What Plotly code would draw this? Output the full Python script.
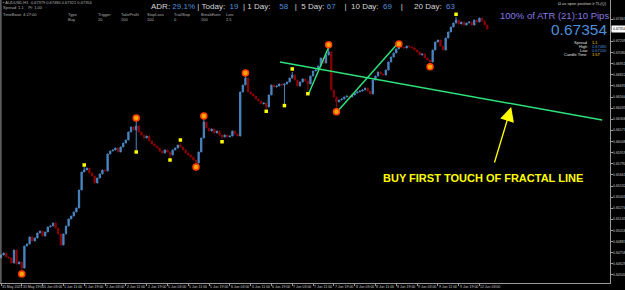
import plotly.graph_objects as go

# ---------------- data (AUDUSD H1) ----------------
close = [0.64732, 0.64755, 0.64709, 0.64697, 0.64639, 0.64790, 0.64628, 0.64651, 0.64581, 0.64836,
         0.64860, 0.64941, 0.64894, 0.64929, 0.64987, 0.65010, 0.64952, 0.64999, 0.65057, 0.65068,
         0.65103, 0.65045, 0.64976, 0.64848, 0.64976, 0.65068, 0.65150, 0.65184, 0.65231, 0.65277,
         0.65486, 0.65695, 0.65718, 0.65741, 0.65683, 0.65648, 0.65567, 0.65625, 0.65672, 0.65718,
         0.65706, 0.65904, 0.65938, 0.65950, 0.65973, 0.65927, 0.65985, 0.66031, 0.66066, 0.66159,
         0.66217, 0.66182, 0.66228, 0.66159, 0.66124, 0.66089, 0.66112, 0.66054, 0.66020, 0.65996,
         0.65973, 0.65938, 0.65915, 0.65950, 0.65927, 0.65892, 0.65950, 0.65973, 0.66008, 0.65985,
         0.65950, 0.65915, 0.65892, 0.65869, 0.65834, 0.65799, 0.65927, 0.66089, 0.66275, 0.66205,
         0.66170, 0.66194, 0.66147, 0.66170, 0.66124, 0.66101, 0.66124, 0.66101, 0.66112, 0.66170,
         0.66136, 0.66112, 0.66623, 0.66704, 0.66785, 0.66623, 0.66600, 0.66576, 0.66542, 0.66518,
         0.66484, 0.66495, 0.66449, 0.66588, 0.66704, 0.66681, 0.66692, 0.66716, 0.66704, 0.66716,
         0.66739, 0.66785, 0.66820, 0.66762, 0.66692, 0.66739, 0.66774, 0.66750, 0.66716, 0.66808,
         0.66866, 0.66878, 0.66924, 0.67017, 0.66959, 0.67052, 0.67087, 0.66646, 0.66565, 0.66507,
         0.66530, 0.66542, 0.66565, 0.66576, 0.66565, 0.66588, 0.66611, 0.66623, 0.66634, 0.66646,
         0.66669, 0.66634, 0.66600, 0.66762, 0.66808, 0.66855, 0.66832, 0.66820, 0.66878, 0.66971,
         0.67029, 0.67075, 0.67122, 0.67156, 0.67145, 0.67133, 0.67156, 0.67145, 0.67133, 0.67110,
         0.67087, 0.67052, 0.67064, 0.67017, 0.66994, 0.66971, 0.67110, 0.67203, 0.67226, 0.67156,
         0.67110, 0.67249, 0.67319, 0.67377, 0.67423, 0.67458, 0.67412, 0.67435, 0.67400, 0.67423,
         0.67435, 0.67400, 0.67458, 0.67435, 0.67481, 0.67446, 0.67400, 0.67354]
first_open = 0.64700

# wick extremes at swing bars
low_wick_bars = [8, 52, 65, 75, 85, 102, 109, 118, 129, 165]
low_wick_vals = [0.64546, 0.65950, 0.65857, 0.65776, 0.66078, 0.66426, 0.66484, 0.66634, 0.66437, 0.66948]
high_wick_bars = [32, 52, 69, 78, 94, 112, 126, 153, 175]
high_wick_vals = [0.65753, 0.66286, 0.66031, 0.66321, 0.66820, 0.66855, 0.67145, 0.67156, 0.67493]

# fractal markers
orange_bars = [8, 52, 75, 78, 94, 126, 129, 153, 165]
orange_vals = [0.64512, 0.66321, 0.65753, 0.66344, 0.66843, 0.67171, 0.66394, 0.67180, 0.66916]
yellow_bars = [32, 52, 65, 69, 85, 102, 109, 112, 118, 175]
yellow_vals = [0.65776, 0.65927, 0.65834, 0.66066, 0.66046, 0.66399, 0.66465, 0.66890, 0.66603, 0.67524]

# drawn lines (bar index, price)
fractal_line = [(107.3, 0.66971), (231.2, 0.66298)]
trend_line_1 = [(118.3, 0.66603), (126.4, 0.67171)]
trend_line_2 = [(129.3, 0.66394), (152.4, 0.67180)]
arrow_tail = (189.6, 0.65788)
arrow_tip = (196.2, 0.66449)
note_pos = (185.4, 0.65625)

time_labels = ["31 May 2023", "31 May 19:00", "1 Jun 03:00", "1 Jun 11:00", "1 Jun 19:00",
               "2 Jun 03:00", "2 Jun 11:00", "2 Jun 19:00", "5 Jun 03:00", "5 Jun 11:00",
               "5 Jun 19:00", "6 Jun 03:00", "6 Jun 11:00", "6 Jun 19:00", "7 Jun 03:00",
               "7 Jun 11:00", "7 Jun 19:00", "8 Jun 03:00", "8 Jun 11:00", "8 Jun 19:00",
               "9 Jun 03:00", "9 Jun 11:00", "9 Jun 19:00", "12 Jun 03:00"]
bars_per_label = 8

price_ticks = [0.67467, 0.67338, 0.67209, 0.67080, 0.66951, 0.66822, 0.66693, 0.66564,
               0.66435, 0.66306, 0.66177, 0.66048, 0.65919, 0.65790, 0.65661, 0.65532,
               0.65403, 0.65274, 0.65145, 0.65016, 0.64887, 0.64758, 0.64629, 0.64500]

current_price = 0.67354
adr_labels = ["ADR:", "Today:", "1 Day:", "5 Day:", "10 Day:", "20 Day:"]
adr_values = ["29.1%", "19", "58", "67", "69", "63"]

# ---------------- build ----------------
N = len(close)
x = list(range(N))
opens = [first_open] + close[:-1]
highs = [max(o, c) for o, c in zip(opens, close)]
lows = [min(o, c) for o, c in zip(opens, close)]
for b, v in zip(high_wick_bars, high_wick_vals):
    highs[b] = max(highs[b], v)
for b, v in zip(low_wick_bars, low_wick_vals):
    lows[b] = min(lows[b], v)

UP = "#4a86c0"
DN = "#8b0000"
fig = go.Figure()
fig.add_trace(go.Candlestick(
    x=x, open=opens, high=highs, low=lows, close=close,
    increasing=dict(line=dict(color=UP, width=1), fillcolor=UP),
    decreasing=dict(line=dict(color=DN, width=1), fillcolor=DN),
    whiskerwidth=0, showlegend=False, hoverinfo="skip"))

LINE_GREEN = "#2ee27a"
for seg in (fractal_line, trend_line_1, trend_line_2):
    fig.add_trace(go.Scatter(x=[seg[0][0], seg[1][0]], y=[seg[0][1], seg[1][1]],
                             mode="lines", line=dict(color=LINE_GREEN, width=1.5),
                             showlegend=False, hoverinfo="skip"))

fig.add_trace(go.Scatter(x=orange_bars, y=orange_vals, mode="markers",
                         marker=dict(size=6, color="#ffa500", line=dict(color="#ff4000", width=1.5)),
                         showlegend=False, hoverinfo="skip"))
fig.add_trace(go.Scatter(x=yellow_bars, y=yellow_vals, mode="markers",
                         marker=dict(size=3.5, symbol="square", color="#ffff00"),
                         showlegend=False, hoverinfo="skip"))

W, H = 625, 290
ML, MR, MT, MB = 0, 15, 0, 7
pw, ph = W - ML - MR, H - MT - MB


def px(xp):
    return (xp - ML) / pw


def py(yp):
    # yp measured from the top of the image
    return (H - yp - MB) / ph


annotations = []
# arrow
annotations.append(dict(x=arrow_tip[0], y=arrow_tip[1], ax=arrow_tail[0], ay=arrow_tail[1],
                        xref="x", yref="y", axref="x", ayref="y", text="", showarrow=True,
                        arrowhead=2, arrowsize=2.2, arrowwidth=1.3, arrowcolor="#ffff00"))
annotations.append(dict(x=note_pos[0], y=note_pos[1], xref="x", yref="y",
                        text="<b>BUY FIRST TOUCH OF FRACTAL LINE</b>",
                        showarrow=False, font=dict(family="Arial", size=11, color="#ffff00")))

AXT = "#c8c8c8"
# time axis labels (left-aligned at tick)
for i, lab in enumerate(time_labels):
    annotations.append(dict(x=i * bars_per_label, y=0, xref="x", yref="paper", text=lab,
                            showarrow=False, xanchor="left", yanchor="top", yshift=-0.5, xshift=0,
                            borderpad=0, font=dict(family="Arial", size=3.5, color=AXT)))

# price axis labels (left-aligned right of the axis line)
for v in price_ticks:
    annotations.append(dict(x=px(611.5), y=v, xref="paper", yref="y", text="%.5f" % v,
                            showarrow=False, xanchor="left", yanchor="middle", borderpad=0,
                            font=dict(family="Arial", size=3.5, color=AXT)))

# ADR header as one line of text
LBL = "#d8d8d8"
VAL = "#4c8fdc"
sp = "\u00a0"
gap_after_label = [1, 2, 4, 1, 2, 2]
gap_before_pipe = [1, 2, 3, 4, 4]
gap_after_pipe = [1, 1, 2, 2, 5]
parts = []
for i, (lab, val) in enumerate(zip(adr_labels, adr_values)):
    parts.append(lab + sp * gap_after_label[i] + "<span style='color:%s'>%s</span>" % (VAL, val))
    if i < len(adr_labels) - 1:
        parts.append(sp * gap_before_pipe[i] + "|" + sp * gap_after_pipe[i])
annotations.append(dict(x=px(150), y=py(7), xref="paper", yref="paper", text="".join(parts),
                        showarrow=False, xanchor="left", yanchor="middle", borderpad=0,
                        font=dict(family="Arial", size=8, color=LBL)))

# top-left tiny info
tiny = "#b0b0b0"
tl = [(2, 3, "\u25aa AUDUSD,H1  0.67379 0.67480 0.67321 0.67354"), (2, 8, "Spread: 1.1    Pt: 1.00"),
      (2, 14, "TimeBase: 4:27:00")]
for tx, ty, tt in tl:
    annotations.append(dict(x=px(tx), y=py(ty), xref="paper", yref="paper", text=tt, showarrow=False,
                            xanchor="left", yanchor="middle", borderpad=0,
                            font=dict(family="Arial", size=4, color=tiny)))
cols = [(67, "Type", "Buy"), (97, "Trigger", "20"), (120, "TakeProfit", "100"), (146, "StopLoss", "100"),
        (173, "TrailStop", "0"), (200, "BreakEven", "100"), (225, "Lots", "2.5")]
for cx, h, v in cols:
    annotations.append(dict(x=px(cx), y=py(14.5), xref="paper", yref="paper", text=h, showarrow=False,
                            xanchor="left", yanchor="middle", borderpad=0,
                            font=dict(family="Arial", size=4, color=tiny)))
    annotations.append(dict(x=px(cx), y=py(19.5), xref="paper", yref="paper", text=v, showarrow=False,
                            xanchor="left", yanchor="middle", borderpad=0,
                            font=dict(family="Arial", size=4, color=tiny)))

# top-right info block
annotations.append(dict(x=px(608), y=py(4), xref="paper", yref="paper",
                        text="\u03a9 as open position \u2265 TL(Q)", borderpad=0,
                        showarrow=False, xanchor="right", yanchor="middle",
                        font=dict(family="Arial", size=4, color="#d0d0d0")))
annotations.append(dict(x=px(610), y=py(16), xref="paper", yref="paper", text="100% of ATR (21):10 Pips",
                        showarrow=False, xanchor="right", yanchor="middle", borderpad=0,
                        font=dict(family="Arial", size=9.5, color="#8878e0")))
annotations.append(dict(x=px(608), y=py(30), xref="paper", yref="paper", text="%.5f" % current_price,
                        showarrow=False, xanchor="right", yanchor="middle", borderpad=0,
                        font=dict(family="Arial", size=15.5, color="#4c8fdc")))
info = [("Spread", "1.1", "#ffd700", 42), ("High", "0.67480", VAL, 46), ("Low", "0.67200", VAL, 50),
        ("Candle Time", "1:57", "#ffd700", 54)]
for lab, val, c, yy in info:
    annotations.append(dict(x=px(588), y=py(yy), xref="paper", yref="paper", text=lab, showarrow=False,
                            xanchor="right", yanchor="middle", borderpad=0,
                            font=dict(family="Arial", size=4, color="#e0e0e0")))
    annotations.append(dict(x=px(591), y=py(yy), xref="paper", yref="paper", text=val, showarrow=False,
                            xanchor="left", yanchor="middle", borderpad=0,
                            font=dict(family="Arial", size=4, color=c)))

# current price box on the axis
annotations.append(dict(x=px(611), y=current_price, xref="paper", yref="y", text="%.5f" % current_price,
                        showarrow=False, xanchor="left", yanchor="middle", bgcolor="#ffffff",
                        borderpad=1, font=dict(family="Arial", size=3.5, color="#000000")))

fig.update_layout(
    width=W, height=H, margin=dict(l=ML, r=MR, t=MT, b=MB, autoexpand=False),
    paper_bgcolor="#000000", plot_bgcolor="#000000",
    annotations=annotations,
    xaxis=dict(range=[-0.385, 234.2], showgrid=False, zeroline=False, showticklabels=False,
               showline=True, linecolor="#9a9a9a", linewidth=1, rangeslider=dict(visible=False),
               fixedrange=True, automargin=False,
               tickvals=[i * bars_per_label for i in range(len(time_labels))],
               ticks="outside", ticklen=1.5, tickcolor="#9a9a9a"),
    yaxis=dict(range=[0.64407, 0.67690], side="right", showgrid=False, zeroline=False,
               tickvals=price_ticks, showticklabels=False, ticks="outside", ticklen=1.5,
               tickcolor="#9a9a9a",
               showline=True, linecolor="#9a9a9a", linewidth=1, fixedrange=True, automargin=False),
    shapes=[dict(type="line", xref="paper", yref="paper", x0=0.0015, x1=0.0015, y0=0, y1=1,
                 line=dict(color="#9a9a9a", width=1))],
)

fig.write_html("out.html")
